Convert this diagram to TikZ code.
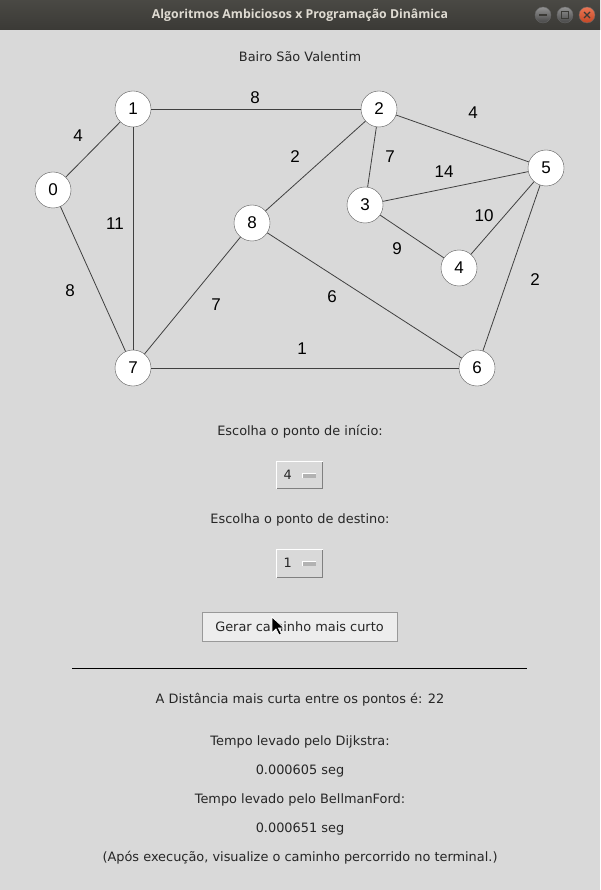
\documentclass[tikz,border=0pt]{standalone}
\usepackage{fontspec}
\setmainfont{DejaVu Sans}
\newfontfamily\graphfont{Liberation Sans}
\newfontfamily\titlefont{Open Sans}
\usepackage{xcolor}
\usepackage{tikz}

\definecolor{winbg}{HTML}{D9D9D9}
\definecolor{bartop}{HTML}{4A4944}
\definecolor{barbot}{HTML}{3B3A36}
\definecolor{bartext}{HTML}{DFDBD2}
\definecolor{edgecol}{HTML}{404040}
\definecolor{closebtn}{HTML}{E6532A}

\begin{document}
\begin{tikzpicture}[x=1pt,y=-1pt]
        \tikzstyle{vertex}=[circle,draw=gray!70!black,fill=white,minimum size=36pt,inner sep=0pt,font=\graphfont\fontsize{17}{17}\selectfont]
        \tikzstyle{weight}=[font=\graphfont\fontsize{17}{17}\selectfont]
        \tikzstyle{edge}=[edgecol,line width=0.8pt]
        \tikzstyle{label}=[font=\fontsize{12.9}{12.9}\selectfont,text=black!85]
        \tikzstyle{winbutton}=[fill=gray!75!black,draw=black!60]
        \useasboundingbox (0,0) rectangle (600,890);
        \fill[winbg] (0,0) rectangle (600,890);
        % title bar
        \shade[top color=bartop,bottom color=barbot] (0,0) rectangle (600,30);
        \node[font=\titlefont\bfseries\fontsize{12.3}{12.3}\selectfont,text=bartext] (title) at (300,15) {Algoritmos Ambiciosos x Programação Dinâmica};
        \shade[top color=gray!85,bottom color=gray!55!black,draw=black!60] (543,15) circle (8);
        \shade[top color=gray!85,bottom color=gray!55!black,draw=black!60] (565,15) circle (8);
        \shade[top color=closebtn!80!white,bottom color=closebtn!85!black,draw=black!60] (587,15) circle (8);
        \draw[barbot,line width=1.3pt] (539,15) -- (547,15);
        \draw[barbot,line width=1.2pt] (561.5,11.5) rectangle (568.5,18.5);
        \draw[barbot,line width=1.3pt] (584,12) -- (590,18) (584,18) -- (590,12);

        \node[label] (heading) at (300,57) {Bairo São Valentim};

        % graph
        \node[vertex] (n0) at (53,190) {0};
        \node[vertex] (n1) at (133,109) {1};
        \node[vertex] (n2) at (379,109) {2};
        \node[vertex] (n3) at (365,205) {3};
        \node[vertex] (n4) at (459,268) {4};
        \node[vertex] (n5) at (546,168) {5};
        \node[vertex] (n6) at (477,368) {6};
        \node[vertex] (n7) at (133,368) {7};
        \node[vertex] (n8) at (252,223) {8};
        \draw[edge] (n0) -- (n1);
        \draw[edge] (n0) -- (n7);
        \draw[edge] (n1) -- (n2);
        \draw[edge] (n1) -- (n7);
        \draw[edge] (n2) -- (n8);
        \draw[edge] (n2) -- (n3);
        \draw[edge] (n2) -- (n5);
        \draw[edge] (n3) -- (n5);
        \draw[edge] (n3) -- (n4);
        \draw[edge] (n4) -- (n5);
        \draw[edge] (n5) -- (n6);
        \draw[edge] (n8) -- (n7);
        \draw[edge] (n8) -- (n6);
        \draw[edge] (n7) -- (n6);
        \node[weight] (w01) at (78,136) {4};
        \node[weight] (w12) at (255,98) {8};
        \node[weight] (w17) at (115,224) {11};
        \node[weight] (w07) at (70,291) {8};
        \node[weight] (w28) at (295,157) {2};
        \node[weight] (w87) at (216,305) {7};
        \node[weight] (w86) at (332,297) {6};
        \node[weight] (w76) at (302,349) {1};
        \node[weight] (w23) at (390,157) {7};
        \node[weight] (w25) at (473,113) {4};
        \node[weight] (w35) at (444,172) {14};
        \node[weight] (w54) at (484,216) {10};
        \node[weight] (w34) at (397,249) {9};
        \node[weight] (w56) at (535,280) {2};

        % controls
        \node[label] (askstart) at (300,432) {Escolha o ponto de início:};
        \fill[winbg] (276,461) rectangle (323,489);
        \draw[white,line width=1.5pt] (276.5,489) -- (276.5,461.5) -- (323,461.5);
        \draw[gray,line width=1.5pt] (276.5,488.5) -- (322.5,488.5) -- (322.5,461.5);
        \node[label,anchor=west] (startval) at (280,475) {4};
        \fill[gray!60] (302,473) rectangle (316,478);
        \draw[white,line width=0.8pt] (302,478) -- (302,473) -- (316,473);
        \node[label] (askend) at (300,520) {Escolha o ponto de destino:};
        \fill[winbg] (276,549) rectangle (323,578);
        \draw[white,line width=1.5pt] (276.5,578) -- (276.5,549.5) -- (323,549.5);
        \draw[gray,line width=1.5pt] (276.5,577.5) -- (322.5,577.5) -- (322.5,549.5);
        \node[label,anchor=west] (endval) at (280,563) {1};
        \fill[gray!60] (302,561) rectangle (316,566);
        \draw[white,line width=0.8pt] (302,566) -- (302,561) -- (316,561);
        \node[label,draw=gray!80,fill=black!7,minimum width=195pt,minimum height=29pt] (run) at (299.5,626.5) {Gerar caminho mais curto};
        % mouse pointer
        \filldraw[fill=black,draw=white,line width=0.8pt] (272,617) -- (272,633) -- (276,629) -- (279,635) -- (281.5,634) -- (278.5,628) -- (284,628) -- cycle;

        \draw[black,line width=0.8pt] (72,668) -- (527,668);
        \node[label] (dist) at (300,700) {A Distância mais curta entre os pontos é: 22};
        \node[label] (dijk) at (300,742) {Tempo levado pelo Dijkstra:};
        \node[label] (dijkt) at (300,771) {0.000605 seg};
        \node[label] (bell) at (300,800) {Tempo levado pelo BellmanFord:};
        \node[label] (bellt) at (300,829) {0.000651 seg};
        \node[label] (note) at (300,858) {(Após execução, visualize o caminho percorrido no terminal.)};
    \end{tikzpicture}
\end{document}
